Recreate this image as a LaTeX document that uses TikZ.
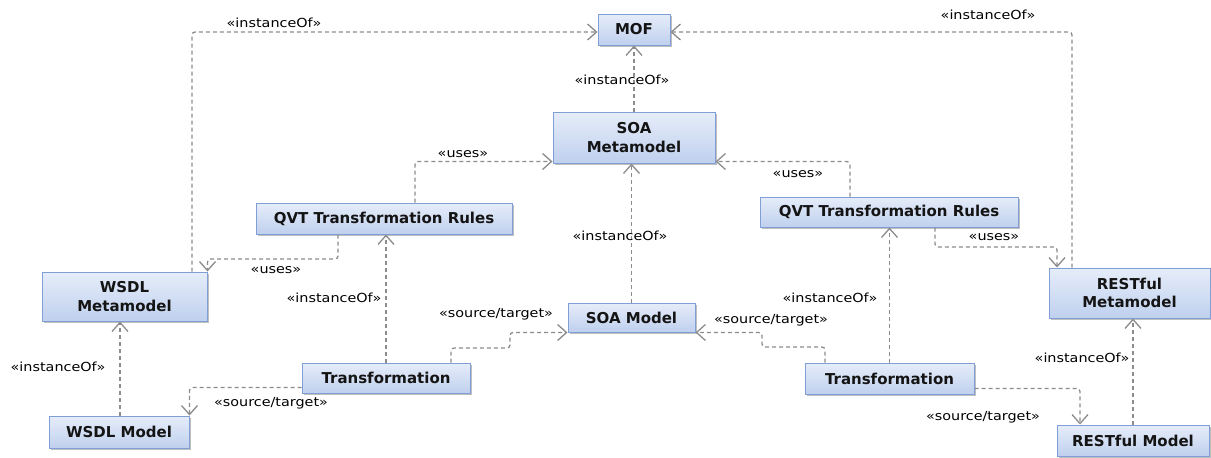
\documentclass[tikz,border=0pt]{standalone}
\usepackage{fontspec}
\setmainfont{DejaVu Sans}
\newfontfamily\lblfont[FakeStretch=1.15]{DejaVu Sans}
\usetikzlibrary{arrows.meta,shadows,calc}
\definecolor{boxborder}{HTML}{7F9FD6}
\definecolor{boxtop}{HTML}{E6EDF9}
\definecolor{boxbot}{HTML}{BFD0EE}
\definecolor{linegray}{HTML}{8C8C8C}
\definecolor{textdark}{HTML}{141414}
\begin{document}
\begin{tikzpicture}[x=1pt,y=-1pt,
  box/.style={draw=boxborder, line width=1pt, top color=boxtop, bottom color=boxbot,
    font=\bfseries\fontsize{15}{18.5}\selectfont, text=textdark, align=center, inner sep=0pt,
    drop shadow={shadow xshift=1.5pt, shadow yshift=-1.5pt, opacity=0.25, fill=black}},
  conn/.style={draw=linegray, line width=1.3pt, dash pattern=on 4pt off 3pt, rounded corners=3pt,
    -{Straight Barb[length=9pt,width=16pt,line width=1.3pt]}},
  lbl/.style={font=\lblfont\fontsize{12.5}{14}\selectfont, inner sep=0pt, text=black}]
\useasboundingbox (0,0) rectangle (1211,458);
\fill[white] (0,0) rectangle (1211,458);

% boxes
\node[box, minimum width=72pt, minimum height=31pt] (MOF) at (634,29.5) {MOF};
\node[box, minimum width=162pt, minimum height=51pt] (SOAMM) at (634,137.5) {SOA\\Metamodel};
\node[box, minimum width=256pt, minimum height=31pt] (QVTL) at (384,218.5) {QVT Transformation Rules};
\node[box, minimum width=258pt, minimum height=30pt] (QVTR) at (889,212) {QVT Transformation Rules};
\node[box, minimum width=165pt, minimum height=49pt] (WSDLMM) at (124.5,296.5) {WSDL\\Metamodel};
\node[box, minimum width=140pt, minimum height=32pt] (WSDLM) at (119,432) {WSDL Model};
\node[box, minimum width=168pt, minimum height=30pt] (TL) at (386,378) {Transformation};
\node[box, minimum width=127pt, minimum height=29pt] (SOAM) at (631.5,317.5) {SOA Model};
\node[box, minimum width=169pt, minimum height=31pt] (TR) at (889.5,378.5) {Transformation};
\node[box, minimum width=161pt, minimum height=50pt] (RMM) at (1129.5,293) {RESTful\\Metamodel};
\node[box, minimum width=152pt, minimum height=31pt] (RM) at (1133,440.5) {RESTful Model};

% helper coordinates
\coordinate (xa) at (192,0);
\coordinate (xb) at (1072,0);
\coordinate (xc) at (415,0);
\coordinate (xd) at (850,0);
\coordinate (xe) at (386,0);
\coordinate (xg) at (451,0);
\coordinate (xh) at (825,0);
\coordinate (xi) at (935,0);
\coordinate (xj) at (1080,0);
\coordinate (xk) at (1133,0);
\coordinate (xl) at (120,0);
\coordinate (b1) at (510,348);
\coordinate (b2) at (762,347);
\coordinate (b3) at (1057,247);
\coordinate (b4) at (338,259);

% connectors
\draw[conn] (WSDLMM.north -| xa) |- ([yshift=-2.5pt]MOF.west);
\draw[conn] (RMM.north -| xb) |- ([yshift=-2.5pt]MOF.east);
\draw[conn] (SOAMM.north) -- (MOF.south);
\draw[conn] (QVTL.north -| xc) |- ([yshift=2pt]SOAMM.south west);
\draw[conn] (QVTR.north -| xd) |- ([yshift=2pt]SOAMM.south east);
\draw[conn] (SOAM.north) -- (SOAM.north |- SOAMM.south);
\draw[conn] (QVTL.south -| b4) -- (b4) -| (WSDLMM.north east);
\draw[conn] (TL.north -| xe) -- (QVTL.south -| xe);
\draw[conn] ([yshift=-9.5pt]TL.west) -| (WSDLM.north east);
\draw[conn] (WSDLM.north -| xl) -- (WSDLMM.south -| xl);
\draw[conn] (TL.north -| xg) |- (b1) |- (SOAM.south west);
\draw[conn] (TR.north -| xh) |- (b2) |- (SOAM.south east);
\draw[conn] (TR.north) -- (TR.north |- QVTR.south);
\draw[conn] (QVTR.south -| xi) |- (b3) -- (RMM.north -| b3);
\draw[conn] ([yshift=-10pt]TR.east) -| (RM.north -| xj);
\draw[conn] (RM.north -| xk) -- (RMM.south -| xk);

% labels
\node[lbl] (l1) at (274,23) {«instanceOf»};
\node[lbl] (l2) at (988,15) {«instanceOf»};
\node[lbl] (l3) at (622,80) {«instanceOf»};
\node[lbl] (l4) at (463,154) {«uses»};
\node[lbl] (l5) at (798,174) {«uses»};
\node[lbl] (l6) at (620,236) {«instanceOf»};
\node[lbl] (l7) at (276,270) {«uses»};
\node[lbl] (l8) at (334,298) {«instanceOf»};
\node[lbl] (l9) at (58,367) {«instanceOf»};
\node[lbl] (l10) at (271,403) {«source/target»};
\node[lbl] (l11) at (496,314) {«source/target»};
\node[lbl] (l12) at (771,320) {«source/target»};
\node[lbl] (l13) at (830,298) {«instanceOf»};
\node[lbl] (l14) at (994,237) {«uses»};
\node[lbl] (l15) at (983,417) {«source/target»};
\node[lbl] (l16) at (1082,358) {«instanceOf»};
\end{tikzpicture}
\end{document}
